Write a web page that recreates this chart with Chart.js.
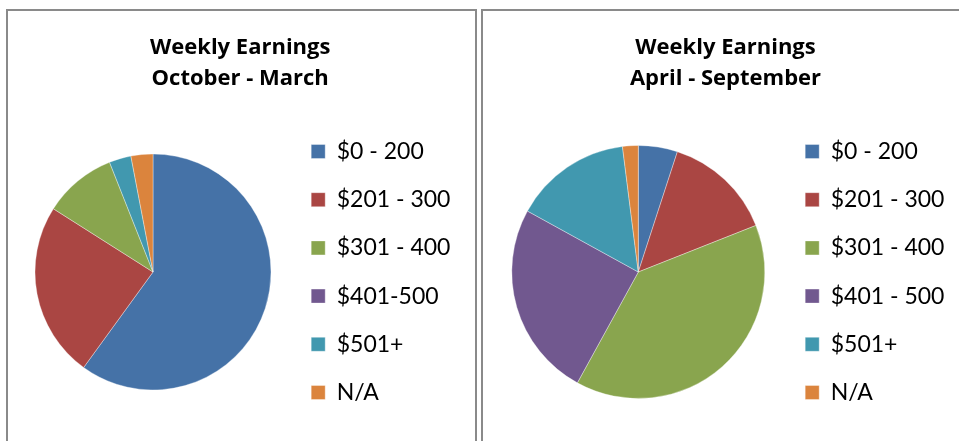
<!DOCTYPE html>
<html>
<head>
<meta charset="utf-8">
<script src="https://cdn.jsdelivr.net/npm/chart.js@4.4.1/dist/chart.umd.min.js"></script>
<style>
  html, body { margin: 0; padding: 0; background: #fff; overflow: hidden; }
  body { width: 959px; height: 441px; position: relative; }
  .panel { position: absolute; top: 9px; border: 2px solid #8a8a8a; height: 430px; }
  #leftPanel { left: 6px; width: 467px; }
  #rightPanel { left: 481px; width: 485px; }
  .panel canvas { display: block; }
</style>
</head>
<body>
<div class="panel" id="leftPanel"><canvas id="octMarChart" width="467" height="430"></canvas></div>
<div class="panel" id="rightPanel"><canvas id="aprSepChart" width="485" height="430"></canvas></div>
<script>
const octMarLabels = ['$0 - 200', '$201 - 300', '$301 - 400', '$401-500', '$501+', 'N/A'];
const aprSepLabels = ['$0 - 200', '$201 - 300', '$301 - 400', '$401 - 500', '$501+', 'N/A'];
const octMarValues = [60, 24, 10, 0, 3, 3];   // percent of respondents
const aprSepValues = [5, 14, 39, 25, 15, 2];
const octMarTitle = ['Weekly Earnings', 'October - March'];
const aprSepTitle = ['Weekly Earnings', 'April - September'];

const sliceColors = ['#4572A7', '#AA4643', '#89A54E', '#71588F', '#4198AF', '#DB843D'];

function makePie(canvasId, labels, values, title, radius, padding) {
    const ctx = document.getElementById(canvasId).getContext('2d');

    return new Chart(ctx, {
        type: 'pie',
        data: {
            labels: labels,
            datasets: [{
                data: values,
                backgroundColor: sliceColors,
                borderColor: 'rgba(255,255,255,0.35)',
                borderWidth: 1,
                radius: radius
            }]
        },
        options: {
            responsive: false,
            animation: false,
            layout: { padding: padding },
            plugins: {
                tooltip: { enabled: false },
                title: {
                    display: true,
                    text: title,
                    color: '#000',
                    font: { family: "'Open Sans'", size: 22, weight: 'bold', lineHeight: 31 / 22 },
                    padding: { top: 21.5, bottom: 16.5 }
                },
                legend: {
                    position: 'right',
                    align: 'center',
                    fullSize: false,   // keep legend beside the pie, below the title
                    labels: {
                        color: '#000',
                        font: { family: 'Lato', size: 23 },
                        boxWidth: 14,
                        boxHeight: 14,
                        padding: 25.2
                    }
                }
            }
        }
    });
}

makePie('octMarChart', octMarLabels, octMarValues, octMarTitle, 118, { left: 12, right: 14.6, top: 0, bottom: 8 });
makePie('aprSepChart', aprSepLabels, aprSepValues, aprSepTitle, 126.5, { left: 13.6, right: 13.6, top: 0, bottom: 8 });
</script>
</body>
</html>
